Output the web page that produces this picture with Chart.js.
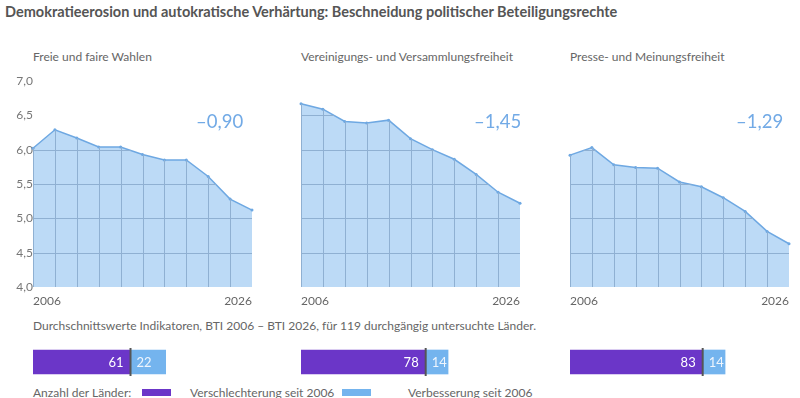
<!DOCTYPE html>
<html lang="de">
<head>
<meta charset="utf-8">
<script src="https://cdn.jsdelivr.net/npm/chart.js@4"></script>
<style>
  body { margin: 0; width: 800px; height: 398px; position: relative; background: #fff; overflow: hidden;
         font-family: Lato, "Open Sans", sans-serif; color: #666; }
  .abs { position: absolute; white-space: nowrap; }
  #title { left: 5px; top: 3px; font-size: 14.5px; font-weight: bold; color: #555; }
  .ptitle { top: 49px; font-size: 12px; color: #666; }
  .change { top: 110px; font-size: 18.5px; color: #72aae6; }
  #subtitle { left: 33px; top: 318px; font-size: 12px; color: #666; }
  .legend { top: 385px; font-size: 12px; color: #666; }
  .swatch { position: absolute; top: 389px; width: 29px; height: 7px; }
  canvas { position: absolute; }
</style>
</head>
<body>
<div id="title" class="abs">Demokratieerosion und autokratische Verhärtung: Beschneidung politischer Beteiligungsrechte</div>
<div id="subtitle" class="abs">Durchschnittswerte Indikatoren, BTI 2006 – BTI 2026, für 119 durchgängig untersuchte Länder.</div>

<div class="abs legend" style="left:33px">Anzahl der Länder:</div>
<div class="swatch" style="left:142px;background:#6b36c8"></div>
<div class="abs legend" style="left:190px">Verschlechterung seit 2006</div>
<div class="swatch" style="left:342px;background:#74b4ee"></div>
<div class="abs legend" style="left:408px">Verbesserung seit 2006</div>

<script>
// Data
const years = ['2006', '2008', '2010', '2012', '2014', '2016', '2018', '2020', '2022', '2024', '2026'];
const panelTitles = ['Freie und faire Wahlen', 'Vereinigungs- und Versammlungsfreiheit', 'Presse- und Meinungsfreiheit'];
const wahlen = [6.02, 6.29, 6.17, 6.04, 6.04, 5.93, 5.85, 5.85, 5.61, 5.28, 5.12];
const vereinigung = [6.67, 6.59, 6.41, 6.39, 6.43, 6.16, 6.00, 5.86, 5.64, 5.38, 5.22];
const presse = [5.92, 6.03, 5.78, 5.74, 5.73, 5.53, 5.46, 5.30, 5.10, 4.81, 4.63];
const changes = ['–0,90', '–1,45', '–1,29'];
const verschlechterung = [61, 78, 83];
const verbesserung = [22, 14, 14];

const series = [wahlen, vereinigung, presse];
const areaLeft = [33, 301, 570];
const changeLeft = [196, 474, 736];

const lineColor = '#6ea8e2';
const fillColor = '#bcdaf6';
const gridColor = '#8fb0d2';
const purple = '#6b36c8';
const lightBlue = '#74b4ee';

Chart.defaults.font.family = 'Lato, "Open Sans", sans-serif';
Chart.defaults.color = '#666';

// grid lines drawn only inside the filled area
const clippedGrid = {
    id: 'clippedGrid',
    afterDatasetsDraw(chart) {
        const ctx = chart.ctx;
        const pts = chart.getDatasetMeta(0).data;
        const xs = chart.scales.x, ys = chart.scales.y;
        const bottom = chart.chartArea.bottom;
        ctx.save();
        ctx.beginPath();
        ctx.moveTo(pts[0].x, bottom);
        pts.forEach(p => ctx.lineTo(p.x, p.y));
        ctx.lineTo(pts[pts.length - 1].x, bottom);
        ctx.closePath();
        ctx.clip();
        ctx.strokeStyle = gridColor;
        ctx.lineWidth = 1;
        ctx.beginPath();
        for (let v = 4; v <= 7; v += 0.5) {
            const y = Math.round(ys.getPixelForValue(v)) + 0.5;
            ctx.moveTo(chart.chartArea.left, y);
            ctx.lineTo(chart.chartArea.right, y);
        }
        years.forEach((_, i) => {
            const x = Math.round(xs.getPixelForValue(i)) + 0.5;
            ctx.moveTo(x, chart.chartArea.top);
            ctx.lineTo(x, bottom);
        });
        ctx.stroke();
        ctx.restore();
    }
};

series.forEach((values, i) => {
    const c = document.createElement('canvas');
    c.style.left = (areaLeft[i] - 33) + 'px';
    c.style.top = '71px';
    c.style.width = '262px';
    c.style.height = '250px';
    document.body.appendChild(c);

    const t = document.createElement('div');
    t.className = 'abs ptitle';
    t.style.left = areaLeft[i] + 'px';
    t.textContent = panelTitles[i];
    document.body.appendChild(t);

    const ch = document.createElement('div');
    ch.className = 'abs change';
    ch.style.left = changeLeft[i] + 'px';
    ch.textContent = changes[i];
    document.body.appendChild(ch);

    new Chart(c, {
        type: 'line',
        data: {
            labels: years,
            datasets: [{
                data: values,
                borderColor: lineColor,
                backgroundColor: fillColor,
                borderWidth: 1.5,
                fill: 'start',
                tension: 0,
                pointRadius: 1.5,
                pointBackgroundColor: lineColor,
                pointBorderWidth: 0
            }]
        },
        options: {
            responsive: false,
            animation: false,
            layout: { padding: { top: 10, right: 10, bottom: 0, left: 0 } },
            plugins: { legend: { display: false }, tooltip: { enabled: false } },
            scales: {
                x: {
                    grid: { display: false, drawTicks: false },
                    border: { display: false },
                    afterFit: s => { s.height = 34; },
                    ticks: {
                        autoSkip: false,
                        maxRotation: 0,
                        align: 'inner',
                        padding: 7,
                        font: { size: 12 },
                        color: '#666',
                        callback: (v, idx) => (idx === 0 || idx === years.length - 1) ? years[idx] : ''
                    }
                },
                y: {
                    min: 4,
                    max: 7,
                    grid: { display: false, drawTicks: false },
                    border: { display: false },
                    afterFit: s => { s.width = 33; },
                    ticks: {
                        display: i === 0,
                        stepSize: 0.5,
                        padding: 0,
                        font: { size: 12 },
                        color: '#777',
                        callback: v => v.toFixed(1).replace('.', ',')
                    }
                }
            }
        },
        plugins: [clippedGrid]
    });
});

// divider line and count labels on the bars
const barLabels = {
    id: 'barLabels',
    afterDatasetsDraw(chart) {
        const ctx = chart.ctx;
        const i = chart.options.panelIndex;
        const xs = chart.scales.x;
        const bar = chart.getDatasetMeta(0).data[0];
        const xb = xs.getPixelForValue(verschlechterung[i]);
        ctx.save();
        ctx.strokeStyle = '#555';
        ctx.lineWidth = 2;
        ctx.beginPath();
        ctx.moveTo(xb, bar.y - 14);
        ctx.lineTo(xb, bar.y + 14);
        ctx.stroke();
        ctx.font = '13px Lato, "Open Sans", sans-serif';
        ctx.textBaseline = 'middle';
        ctx.textAlign = 'right';
        ctx.fillStyle = '#ffffff';
        ctx.fillText(String(verschlechterung[i]), xb - 7, bar.y + 1);
        ctx.textAlign = 'left';
        ctx.fillStyle = '#eef5fd';
        ctx.fillText(String(verbesserung[i]), xb + 6, bar.y + 1);
        ctx.restore();
    }
};

verschlechterung.forEach((v, i) => {
    const c = document.createElement('canvas');
    c.style.left = areaLeft[i] + 'px';
    c.style.top = '346px';
    c.style.width = '219px';
    c.style.height = '32px';
    document.body.appendChild(c);

    new Chart(c, {
        type: 'bar',
        data: {
            labels: [''],
            datasets: [
                { data: [verschlechterung[i]], backgroundColor: purple, barThickness: 24 },
                { data: [verbesserung[i]], backgroundColor: lightBlue, barThickness: 24 }
            ]
        },
        options: {
            panelIndex: i,
            indexAxis: 'y',
            responsive: false,
            animation: false,
            layout: { padding: 0 },
            plugins: { legend: { display: false }, tooltip: { enabled: false } },
            scales: {
                x: { stacked: true, min: 0, max: 137, display: false },
                y: { stacked: true, display: false }
            }
        },
        plugins: [barLabels]
    });
});
</script>
</body>
</html>
